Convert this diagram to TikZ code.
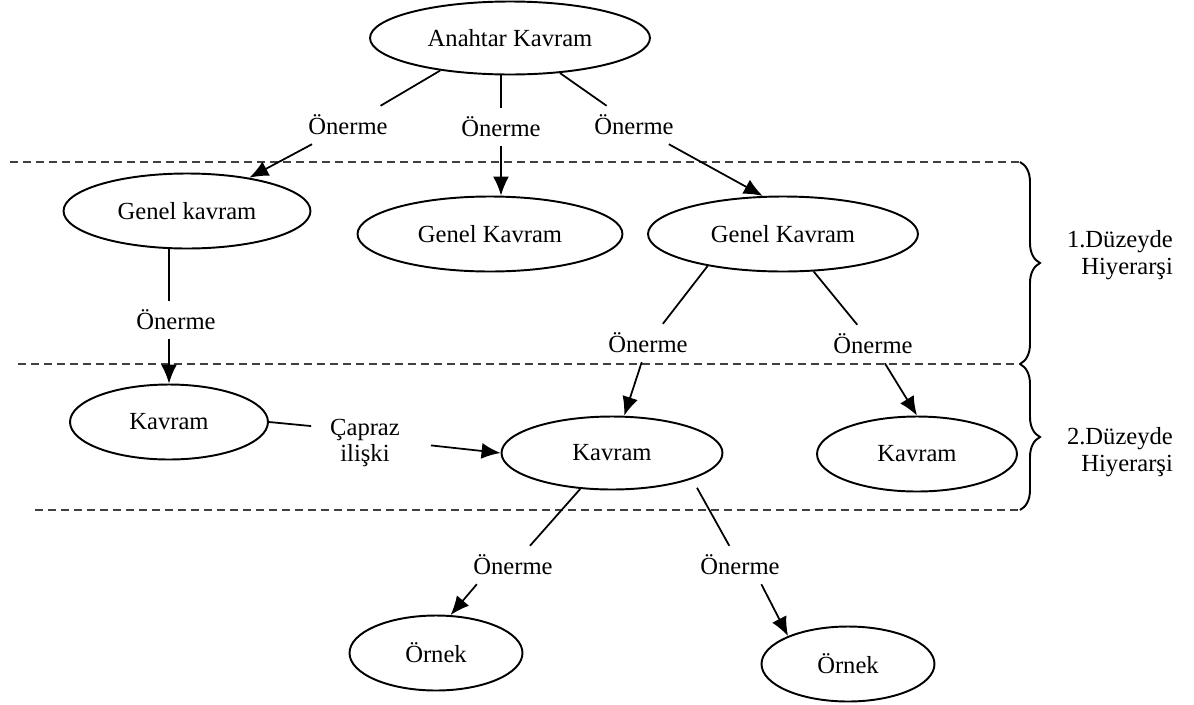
\documentclass[tikz,border=0pt]{standalone}
\usepackage{fontspec}
\setmainfont{Liberation Serif}
\usetikzlibrary{arrows.meta,shapes.geometric,decorations.pathreplacing}

\begin{document}
\begin{tikzpicture}[x=0.02cm, y=-0.02cm, >={Latex[length=3.8mm,width=3.2mm]},
  font=\fontsize{14pt}{15pt}\selectfont,
  kav/.style={draw, ellipse, line width=1.1pt, minimum height=1.5cm, inner sep=0pt},
  lbl/.style={inner sep=5pt},
  link/.style={line width=1pt},
  level/.style={dash pattern=on 0.16cm off 0.1cm, line width=1.3pt, black!75},
  bracket/.style={decorate, decoration={brace, amplitude=0.4cm}, line width=1.1pt}]
  \useasboundingbox (0,0) rectangle (1194,704);

  % kavramlar
  \node[kav, minimum width=5.6cm, minimum height=1.46cm] (anahtar) at (510,38) {Anahtar Kavram};
  \node[kav, minimum width=4.94cm] (genel1) at (187,211) {Genel kavram};
  \node[kav, minimum width=5.3cm] (genel2) at (490,234) {Genel Kavram};
  \node[kav, minimum width=5.4cm] (genel3) at (783,234) {Genel Kavram};
  \node[kav, minimum width=3.96cm] (kav1) at (169,422) {Kavram};
  \node[kav, minimum width=4.42cm, minimum height=1.46cm] (kav2) at (612,453) {Kavram};
  \node[kav, minimum width=4cm] (kav3) at (917,454) {Kavram};
  \node[kav, minimum width=3.46cm] (ornek1) at (436,653) {Örnek};
  \node[kav, minimum width=3.46cm] (ornek2) at (848,664) {Örnek};

  % önermeler
  \node[lbl] (on1) at (348,125) {Önerme};
  \node[lbl] (on2) at (501,127) {Önerme};
  \node[lbl] (on3) at (634,125) {Önerme};
  \node[lbl] (on4) at (176,320) {Önerme};
  \node[lbl] (on5) at (648,343) {Önerme};
  \node[lbl] (on6) at (873,344) {Önerme};
  \node[lbl] (on7) at (513,565) {Önerme};
  \node[lbl] (on8) at (740,565) {Önerme};
  \node[lbl, align=center] (capraz) at (365,443) {Çapraz\\ilişki};

  % düzeyler
  \coordinate (d1) at (1020,162);
  \coordinate (d2) at (1020,364);
  \coordinate (d3) at (1020,510);
  \draw[level] (10,162) -- (d1);
  \draw[level] (18,364) -- (d2);
  \draw[level] (35,510) -- (d3);
  \draw[bracket] (d1) -- (d2);
  \draw[bracket] (d2) -- (d3);
  \node[lbl, align=right, anchor=east] (duz1) at (1182,255) {1.Düzeyde\\Hiyerarşi};
  \node[lbl, align=right, anchor=east] (duz2) at (1182,452) {2.Düzeyde\\Hiyerarşi};

  % anahtar kavram
  \draw[link] (anahtar.205) -- (on1);
  \draw[link] (on2 |- anahtar.south) -- (on2);
  \draw[link] (anahtar) -- (on3);
  \draw[link,->] (on1) -- (genel1);
  \draw[link,->] (on2) -- (on2 |- genel2.north);
  \draw[link,->] (on3) -- (genel3.118);

  % genel kavramlar
  \draw[link] (kav1 |- genel1.south) -- (kav1 |- on4.north);
  \draw[link,->] (kav1 |- on4.south) -- (kav1.north);
  \draw[link] (genel3.203) -- (on5);
  \draw[link] (genel3) -- (on6);
  \draw[link,->] (on5) -- (kav2);
  \draw[link,->] (on6) -- (kav3.north);

  % capraz iliski
  \draw[link, shorten >=0.2cm] (kav1.east) -- (capraz.160);
  \draw[link,->, shorten <=0.44cm] (capraz.east) -- (kav2.west);

  % ornekler
  \draw[link] (kav2) -- (on7);
  \draw[link, shorten <=0.2cm] (kav2.342) -- (on8);
  \draw[link,->] (on7.208) -- (ornek1.69);
  \draw[link,->] (on8.318) -- (ornek2.155);
\end{tikzpicture}
\end{document}
